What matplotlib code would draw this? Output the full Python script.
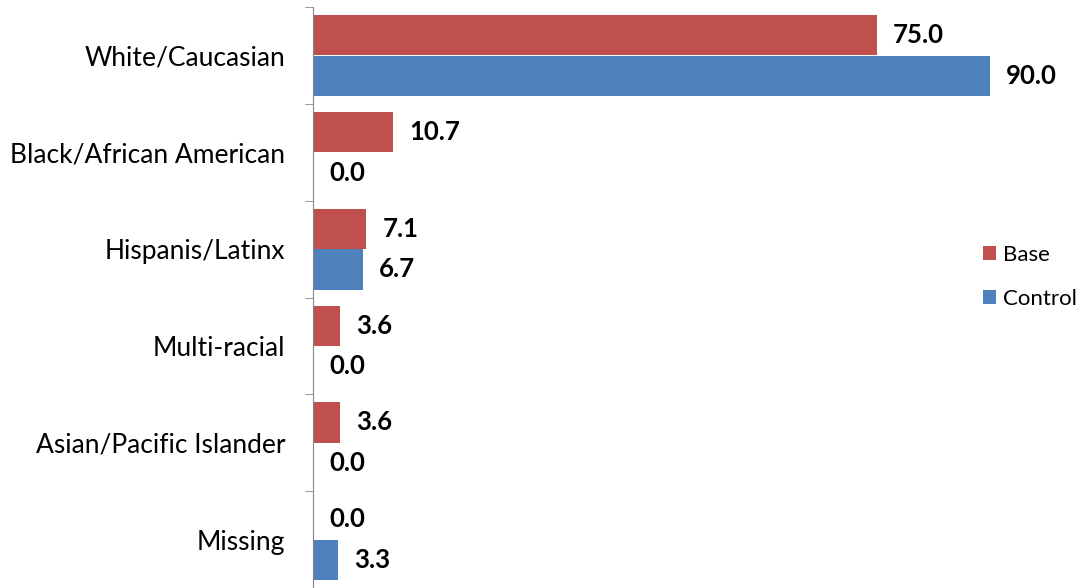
import numpy as np
import matplotlib.pyplot as plt

categories = ['White/Caucasian', 'Black/African American', 'Hispanis/Latinx',
              'Multi-racial', 'Asian/Pacific Islander', 'Missing']
base = [75.0, 10.7, 7.1, 3.6, 3.6, 0.0]
control = [90.0, 0.0, 6.7, 0.0, 0.0, 3.3]

RED = '#C0504D'
BLUE = '#4F81BD'

plt.rcParams['font.family'] = ['Lato', 'DejaVu Sans']

fig = plt.figure(figsize=(10.92, 5.88), dpi=100)
ax = fig.add_axes([313 / 1092, 0.0, (990 - 313) / 1092, 0.988])

y = np.arange(len(categories))
h = 0.415
off = 0.21

bars_b = ax.barh(y - off, base, height=h, color=RED, label='Base')
bars_c = ax.barh(y + off, control, height=h, color=BLUE, label='Control')

for bars, vals in ((bars_b, base), (bars_c, control)):
    for b, v in zip(bars, vals):
        ax.annotate(f'{v:.1f}', xy=(v, b.get_y() + b.get_height() / 2),
                    xytext=(11.5, 0), textcoords='offset points',
                    ha='left', va='center', fontsize=18.5, fontweight='bold',
                    annotation_clip=False)

ax.set_xlim(0, 90)
ax.set_ylim(len(categories) - 0.5, -0.5)

ax.set_yticks(y)
ax.set_yticklabels(categories, fontsize=19)
ax.set_yticks(np.arange(len(categories) + 1) - 0.5, minor=True)
ax.tick_params(axis='y', which='major', length=0, pad=20)
ax.tick_params(axis='y', which='minor', length=6, color='#868686')
ax.set_xticks([])

for side in ('top', 'right', 'bottom'):
    ax.spines[side].set_visible(False)
ax.spines['left'].set_color('#868686')

ax.legend(loc='center left', bbox_to_anchor=(983 / 1092, 1 - 277 / 588),
          bbox_transform=fig.transFigure, frameon=False, fontsize=16,
          handlelength=0.6, handleheight=0.6, handletextpad=0.3,
          labelspacing=1.1, borderpad=0, borderaxespad=0)

fig.savefig('out.png', dpi=100)
